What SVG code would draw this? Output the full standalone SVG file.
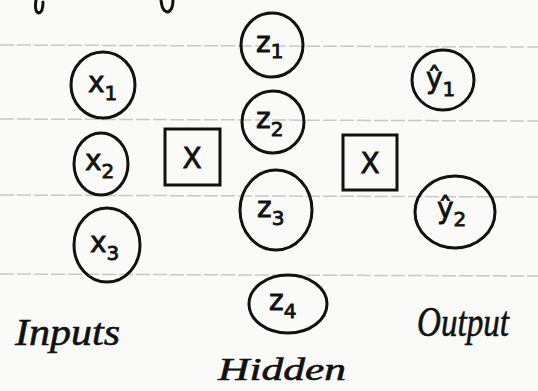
<svg xmlns="http://www.w3.org/2000/svg" width="538" height="391" viewBox="0 0 538 391">
<style>
.node ellipse{fill:none;stroke:#111;stroke-width:3}
.box rect{fill:none;stroke:#111;stroke-width:3}
.lbl{font-family:"DejaVu Sans",sans-serif;font-size:28px;fill:#111;stroke:#111;stroke-width:0.8}
.sub{font-size:20px}
.cap{font-family:"Liberation Serif",serif;font-style:italic;fill:#111;stroke:#111;stroke-width:0.6}
.rule{stroke:#c8c8c8;stroke-width:1.5;stroke-dasharray:14 3}
</style>
<rect width="538" height="391" fill="#fafaf8"/>
<g id="ruling">
<line class="rule" x1="0" y1="45" x2="538" y2="47"/>
<line class="rule" x1="0" y1="119" x2="538" y2="121"/>
<line class="rule" x1="0" y1="195" x2="538" y2="197"/>
<line class="rule" x1="0" y1="274" x2="538" y2="276"/>
</g>
<g id="fragments" fill="none" stroke="#111" stroke-width="3" stroke-linecap="round">
<path d="M36 0 Q34 12 39 13 Q43 12 43 2"/>
<path d="M161 0 Q162 12 168 12 Q173 10 173 0"/>
</g>
<g id="connectors"></g>
<g id="x1" class="node"><ellipse cx="103" cy="85" rx="32" ry="33"/><text class="lbl" x="88" y="92">x<tspan class="sub" dy="8">1</tspan></text></g>
<g id="x2" class="node"><ellipse cx="101" cy="164" rx="27" ry="31"/><text class="lbl" x="85" y="170">x<tspan class="sub" dy="8">2</tspan></text></g>
<g id="x3" class="node"><ellipse cx="107" cy="245" rx="33" ry="37"/><text class="lbl" x="90" y="252">x<tspan class="sub" dy="8">3</tspan></text></g>
<g id="box1" class="box"><rect x="165" y="129" width="55" height="56"/><text class="lbl" x="192" y="168" text-anchor="middle">X</text></g>
<g id="z1" class="node"><ellipse cx="272" cy="45" rx="31" ry="32"/><text class="lbl" x="256" y="52">z<tspan class="sub" dy="6">1</tspan></text></g>
<g id="z2" class="node"><ellipse cx="273" cy="122" rx="31" ry="31"/><text class="lbl" x="256" y="128">z<tspan class="sub" dy="8">2</tspan></text></g>
<g id="z3" class="node"><ellipse cx="276" cy="210" rx="36" ry="40"/><text class="lbl" x="257" y="217">z<tspan class="sub" dy="8">3</tspan></text></g>
<g id="z4" class="node"><ellipse cx="288" cy="304" rx="39" ry="29"/><text class="lbl" x="269" y="310">z<tspan class="sub" dy="8">4</tspan></text></g>
<g id="box2" class="box"><rect x="343" y="135" width="54" height="55"/><text class="lbl" x="370" y="173" text-anchor="middle">X</text></g>
<g id="y1" class="node"><ellipse cx="443" cy="80" rx="31" ry="30"/><text class="lbl" x="426" y="88">ŷ<tspan class="sub" dy="8">1</tspan></text></g>
<g id="y2" class="node"><ellipse cx="455" cy="212" rx="40" ry="36"/><text class="lbl" x="437" y="218">ŷ<tspan class="sub" dy="8">2</tspan></text></g>
<g id="captions">
<text class="cap" x="15" y="345" font-size="38" textLength="105" lengthAdjust="spacingAndGlyphs">Inputs</text>
<text class="cap" x="218" y="380" font-size="32" textLength="128" lengthAdjust="spacingAndGlyphs">Hidden</text>
<text class="cap" x="417" y="336" font-size="42" textLength="92" lengthAdjust="spacingAndGlyphs">Output</text>
</g>
</svg>
